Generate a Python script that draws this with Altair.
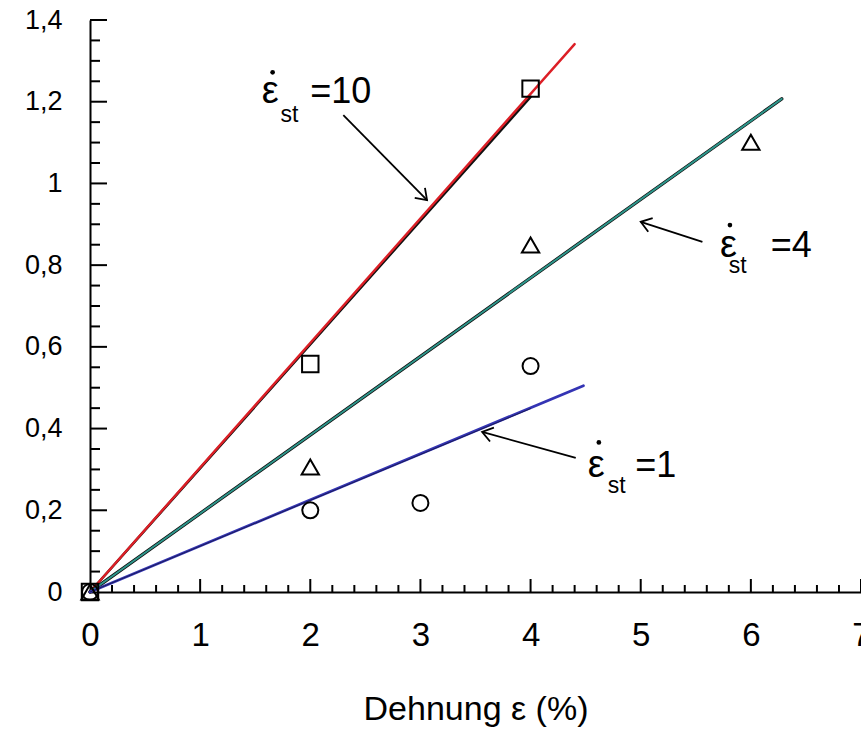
import altair as alt
import pandas as pd
import numpy as np

FONT = "Liberation Sans"

sq_x = [0, 2, 4]
sq_y = [0, 0.558, 1.232]
tri_x = [0, 2, 4, 6]
tri_y = [0, 0.306, 0.849, 1.101]
cir_x = [0, 2, 3, 4]
cir_y = [0, 0.200, 0.218, 0.553]

# ---- fitted lines (end points) ----
red_x, red_y = [0, 4.40], [0, 1.341]
blk10_x, blk10_y = [0, 4.0], [0, 1.212]
teal_x, teal_y = [0, 6.28], [0, 1.207]
blue_x, blue_y = [0, 4.48], [0, 0.505]
blk1_x, blk1_y = [0, 4.0], [0, 0.449]

# ---- axis ticks ----
x_major = [0, 1, 2, 3, 4, 5, 6, 7]
x_minor = [round(v, 2) for v in np.arange(0.2, 7.0, 0.2) if abs(v - round(v)) > 1e-6]
y_major = [0, 0.2, 0.4, 0.6, 0.8, 1.0, 1.2, 1.4]
y_minor = [round(v, 2) for v in np.arange(0.05, 1.4, 0.05)
           if abs(v / 0.2 - round(v / 0.2)) > 1e-6]

# ---- annotations ----
arr_x1 = [2.30, 5.56, 4.41]
arr_y1 = [1.167, 0.857, 0.328]
arr_x2 = [3.06, 5.00, 3.56]
arr_y2 = [0.959, 0.906, 0.392]

lab_eps_x = [1.56, 5.72, 4.52]
lab_eps_y = [1.197, 0.820, 0.281]
lab_dot_x = [1.658, 5.81, 4.62]
lab_dot_y = [1.272, 0.898, 0.366]
lab_st_x = [1.73, 5.80, 4.70]
lab_st_y = [1.150, 0.781, 0.242]
lab_eq_x = [2.00, 6.18, 4.95]
lab_eq_y = [1.197, 0.820, 0.281]
lab_eq_txt = ["=10", "=4", "=1"]

W, H = 771, 572
XD, YD = [0, 7], [0, 1.4]
sx, sy = W / (XD[1] - XD[0]), H / (YD[1] - YD[0])

xs = alt.Scale(domain=XD, nice=False, zero=False)
ys = alt.Scale(domain=YD, nice=False, zero=False)

x_axis = alt.Axis(values=x_major, ticks=False, tickSize=0, grid=False,
                  domainColor="black", domainWidth=2, labelFont=FONT,
                  labelFontSize=33, labelColor="black", labelPadding=27,
                  labelFlush=False, labelOverlap=False, labelBound=False,
                  title="Dehnung ε (%)", titleFont=FONT, titleFontSize=34,
                  titleFontWeight="normal", titleColor="black", titlePadding=40)
y_axis = alt.Axis(values=y_major, ticks=False, tickSize=0, grid=False,
                  domainColor="black", domainWidth=2, labelFont=FONT,
                  labelFontSize=27, labelColor="black", labelPadding=28,
                  labelFlush=False, labelOverlap=False, labelBound=False,
                  labelExpr="replace(format(datum.value, '.1~f'), '.', ',')",
                  title=None)


def X(f="x"):
    return alt.X(f"{f}:Q", scale=xs, axis=x_axis)


def Y(f="y"):
    return alt.Y(f"{f}:Q", scale=ys, axis=y_axis)


def line(xv, yv, color, width):
    df = pd.DataFrame({"x": xv, "y": yv})
    return alt.Chart(df).mark_line(color=color, strokeWidth=width,
                                   strokeCap="round").encode(x=X(), y=Y())


layers = []

# axis ticks (pointing inward)
layers.append(alt.Chart(pd.DataFrame({"x": x_major[1:], "y": 0})).mark_tick(
    orient="vertical", size=13, thickness=2, yOffset=-6.5, color="black", opacity=1
).encode(x=X(), y=Y()))
layers.append(alt.Chart(pd.DataFrame({"x": x_minor, "y": 0})).mark_tick(
    orient="vertical", size=7, thickness=2, yOffset=-3.5, color="black", opacity=1
).encode(x=X(), y=Y()))
layers.append(alt.Chart(pd.DataFrame({"x": 0, "y": y_major[1:]})).mark_tick(
    orient="horizontal", size=17, thickness=2, xOffset=8.5, color="black", opacity=1
).encode(x=X(), y=Y()))
layers.append(alt.Chart(pd.DataFrame({"x": 0, "y": y_minor})).mark_tick(
    orient="horizontal", size=10, thickness=2, xOffset=5, color="black", opacity=1
).encode(x=X(), y=Y()))

# lines
layers.append(line(blk10_x, blk10_y, "#111111", 2.6))
layers.append(line(red_x, red_y, "#dc1f26", 2.4))
layers.append(line(teal_x, teal_y, "#111111", 3.4))
layers.append(line(teal_x, teal_y, "#2e978c", 1.9))
layers.append(line(blue_x, blue_y, "#3434b4", 2.8))
layers.append(line(blk1_x, blk1_y, "#1c1c5a", 1.0))

# markers
pt = dict(filled=False, color="black", strokeWidth=2, opacity=1)
layers.append(alt.Chart(pd.DataFrame({"x": sq_x, "y": sq_y})).mark_point(
    shape="square", size=270, **pt).encode(x=X(), y=Y()))
layers.append(alt.Chart(pd.DataFrame({"x": tri_x, "y": tri_y})).mark_point(
    shape="triangle-up", size=300, **pt).encode(x=X(), y=Y()))
layers.append(alt.Chart(pd.DataFrame({"x": cir_x, "y": cir_y})).mark_point(
    shape="circle", size=256, **pt).encode(x=X(), y=Y()))

# arrows
arr = pd.DataFrame({"x": arr_x1, "y": arr_y1, "x2": arr_x2, "y2": arr_y2})
arr["ang"] = np.degrees(np.arctan2((arr["x2"] - arr["x"]) * sx,
                                   (arr["y2"] - arr["y"]) * sy)) % 360
layers.append(alt.Chart(arr).mark_rule(color="black", strokeWidth=1.8).encode(
    x=X(), y=Y(), x2="x2:Q", y2="y2:Q"))
layers.append(alt.Chart(arr).mark_point(
    shape="M -0.7 1 L 0 0 L 0.7 1", filled=False, color="black",
    strokeWidth=1.8, size=420, opacity=1
).encode(x=X("x2"), y=Y("y2"), angle=alt.Angle("ang:Q", scale=None)))

# labels
txt = pd.DataFrame({
    "x": lab_eps_x + lab_st_x + lab_eq_x,
    "y": lab_eps_y + lab_st_y + lab_eq_y,
    "t": ["ε"] * 3 + ["st"] * 3 + lab_eq_txt,
    "fs": [38] * 3 + [23] * 3 + [36] * 3,
})
layers.append(alt.Chart(txt).mark_text(
    align="left", baseline="alphabetic", font=FONT, color="black"
).encode(x=X(), y=Y(), text="t:N", size=alt.Size("fs:Q", scale=None)))

# dots above epsilon
layers.append(alt.Chart(pd.DataFrame({"x": lab_dot_x, "y": lab_dot_y})).mark_point(
    shape="circle", filled=True, color="black", size=22, opacity=1
).encode(x=X(), y=Y()))

chart = alt.layer(*layers).properties(
    width=W, height=H,
    autosize=alt.AutoSizeParams(type="none"),
    padding={"left": 90, "top": 20, "right": 0, "bottom": 148},
    background="white",
).configure_view(stroke=None)

chart.save("out.html", embed_options={"renderer": "svg", "actions": False})
